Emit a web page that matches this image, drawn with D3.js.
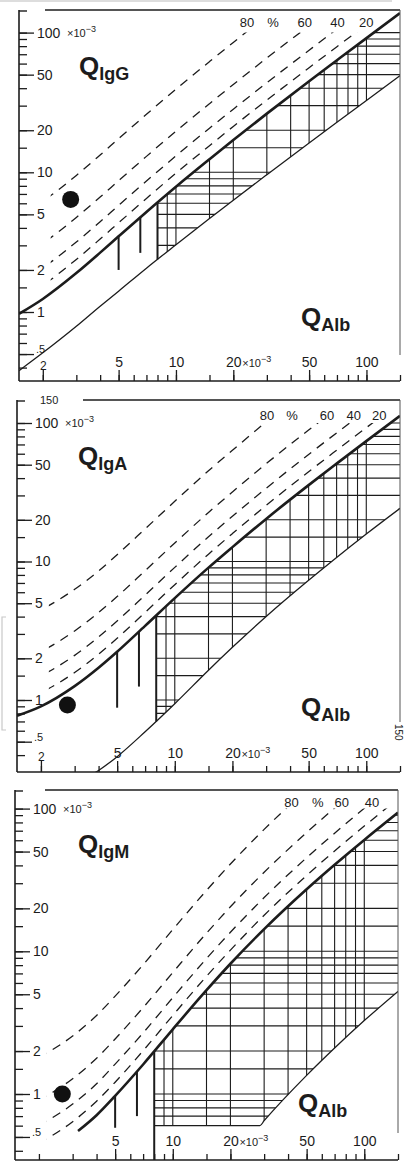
<!DOCTYPE html>
<html><head><meta charset="utf-8">
<script src="https://cdn.jsdelivr.net/npm/d3@7"></script>
<style>
html,body{margin:0;padding:0;background:#fff;}
svg{display:block;}
text{font-family:"Liberation Sans",Arial,Helvetica,sans-serif;fill:#1c1c1c;}
</style>
</head><body>
<svg id="c" width="410" height="1168"></svg>
<script>
// ---------------- DATA (values ×10^-3) ----------------
const xTicks = [2,3,4,5,6,7,8,9,10,15,20,30,40,50,60,70,80,90,100,150];
const xTickLabels = [2,5,10,20,50,100];
const xTickLabelsIgM = [5,10,20,50,100];
const yTicks = [0.4,0.5,0.6,0.7,0.8,0.9,1,1.5,2,3,4,5,6,7,8,9,10,15,20,30,40,50,60,70,80,90,100];
const yTickLabels = [100,50,20,10,5,2,1];
const yTickLabelSmall = [0.5];
const hatchX = [8,9,10,15,20,30,40,50,60,70,80,90,100];
const hatchY = [0.6,0.7,0.8,0.9,1,1.5,2,3,4,5,6,7,8,9,10,15,20,30,40,50,60,70,80,90,100];
const pctLabels = ["80","%","60","40","20"];
const pctLabelsIgM = ["80","%","60","40"];

// IgG
const igG_upper = [[1.5,0.97],[2,1.24],[3,1.90],[4,2.66],[5,3.48],[7,5.2],[10,7.88],[15,12.4],[20,17.0],[30,26.3],[50,44.9],[70,63.4],[100,91.3],[150,137.8]];
const igG_lower = [[1.5,0.38],[2,0.51],[3,0.79],[4,1.10],[5,1.41],[7,2.06],[10,3.03],[15,4.67],[20,6.32],[30,9.61],[50,16.2],[70,22.8],[100,32.7],[150,49.2]];
const igG_if20 = [[1.5,1.21],[2,1.55],[3,2.38],[4,3.33],[5,4.35],[7,6.5],[10,9.85],[15,15.5],[20,21.3],[30,32.9],[50,56.1],[70,79.3],[100,114]];
const igG_if40 = [[1.5,1.62],[2,2.07],[3,3.17],[4,4.43],[5,5.8],[7,8.67],[10,13.1],[15,20.7],[20,28.3],[30,43.8],[50,74.8],[70,106],[100,152]];
const igG_if60 = [[1.5,2.43],[2,3.1],[3,4.75],[4,6.65],[5,8.7],[7,13],[10,19.7],[15,31],[20,42.5],[30,65.8],[50,112],[70,159]];
const igG_if80 = [[1.5,4.85],[2,6.2],[3,9.5],[4,13.3],[5,17.4],[7,26],[10,39.4],[15,62],[20,85],[30,132],[50,225]];
const igG_age = [[5,3.48,2.0],[6.5,4.76,2.65],[8,6.08,2.38]];
const igG_dot = [2.8,6.4];

// IgA
const igA_upper = [[1.5,0.77],[2,0.9],[3,1.26],[4,1.71],[5,2.23],[7,3.43],[10,5.44],[15,9.03],[20,12.7],[30,20.3],[50,35.6],[70,50.9],[100,74],[150,112.5]];
const igA_lower = [[1.5,0.18],[2,0.2],[3,0.25],[4,0.31],[5,0.39],[7,0.59],[10,0.94],[15,1.64],[20,2.4],[30,4.01],[50,7.32],[70,10.7],[100,15.8],[150,24.2]];
const igA_if20 = [[1.5,0.96],[2,1.13],[3,1.58],[4,2.14],[5,2.79],[7,4.29],[10,6.8],[15,11.3],[20,15.9],[30,25.4],[50,44.5],[70,63.6],[100,92.5],[150,141]];
const igA_if40 = [[1.5,1.28],[2,1.5],[3,2.1],[4,2.85],[5,3.72],[7,5.72],[10,9.07],[15,15.1],[20,21.2],[30,33.8],[50,59.3],[70,84.8],[100,123]];
const igA_if60 = [[1.5,1.93],[2,2.25],[3,3.15],[4,4.28],[5,5.58],[7,8.58],[10,13.6],[15,22.6],[20,31.8],[30,50.8],[50,89],[70,127]];
const igA_if80 = [[1.5,3.85],[2,4.5],[3,6.3],[4,8.55],[5,11.2],[7,17.2],[10,27.2],[15,45.2],[20,63.5],[30,102]];
const igA_age = [[5,2.23,0.88],[6.5,3.12,1.25],[8,4.08,0.70]];
const igA_dot = [2.75,0.92];

// IgM
const igM_upper = [[3.2,0.55],[4,0.71],[5,0.97],[7,1.61],[10,2.84],[15,5.34],[20,8.18],[30,14.3],[50,27.2],[70,40.4],[100,60.3],[150,93.7]];
const igM_lower = [[28.5,0.6],[30,0.65],[50,1.35],[70,2.1],[100,3.27],[150,5.24]];
const igM_floor = [[8,0.6],[28.5,0.6]];
const igM_if20 = [[2,0.45],[3,0.64],[4,0.89],[5,1.21],[7,2.01],[10,3.55],[15,6.68],[20,10.2],[30,17.9],[50,34],[70,50.5],[100,75.4],[150,117]];
const igM_if40 = [[2,0.6],[3,0.85],[4,1.18],[5,1.62],[7,2.68],[10,4.73],[15,8.9],[20,13.6],[30,23.8],[50,45.3],[70,67.3],[100,100.5],[150,156]];
const igM_if60 = [[2,0.9],[3,1.28],[4,1.78],[5,2.43],[7,4.03],[10,7.1],[15,13.4],[20,20.5],[30,35.8],[50,68],[70,101],[100,151]];
const igM_if80 = [[2,1.8],[3,2.55],[4,3.55],[5,4.85],[7,8.05],[10,14.2],[15,26.7],[20,40.9],[30,71.5],[50,136]];
const igM_age = [[5,0.97,0.58],[6.5,1.43,0.70],[8,1.99,0.3]];
const igM_dot = [2.65,1.0];

// ---------------- LAYOUT ----------------
const C = "#1c1c1c";
const panels = [
  {id:"G", sub:"IgG", upper:igG_upper, lower:igG_lower, floor:null, dashed:[igG_if20,igG_if40,igG_if60,igG_if80],
   age:igG_age, dot:igG_dot, xLabels:xTickLabels, pct:pctLabels, pctQ:[23.6,32.3,47.4,70.5,99.8], pctY:27,
   f:{top:10,bottom:381,left:19,right:400}, y1:312, dec:139.7, q:[79,75], alb:[301,326], topStart:45, rightEnd:355, l150:false},
  {id:"A", sub:"IgA", upper:igA_upper, lower:igA_lower, floor:null, dashed:[igA_if20,igA_if40,igA_if60,igA_if80],
   age:igA_age, dot:igA_dot, xLabels:xTickLabels, pct:pctLabels, pctQ:[30.3,40.9,62.3,86.1,117], pctY:420,
   f:{top:400,bottom:772,left:17,right:400}, y1:700, dec:138.5, q:[78,465], alb:[301,716], topStart:83, rightEnd:722, l150:true},
  {id:"M", sub:"IgM", upper:igM_upper, lower:igM_lower, floor:igM_floor, dashed:[igM_if20,igM_if40,igM_if60,igM_if80],
   age:igM_age, dot:igM_dot, xLabels:xTickLabelsIgM, pct:pctLabelsIgM, pctQ:[41.7,57.2,76.3,109.6], pctY:807,
   f:{top:790,bottom:1160,left:15,right:398}, y1:1094, dec:142.7, q:[78,853], alb:[298,1112], topStart:45, rightEnd:1133, l150:false}
];

const svg = d3.select("#c");
const defs = svg.append("defs");

// faint scan artefacts at the page edge
svg.append("line").attr("x1",0).attr("x2",392).attr("y1",1).attr("y2",1).attr("stroke","#bbb").attr("stroke-width",1.2);
svg.append("path").attr("d","M6,617 L2,617 L2,730 L6,730").attr("fill","none").attr("stroke","#c8c8c8").attr("stroke-width",1.2);

function drawPanel(p){
  const f = p.f;
  const x = d3.scaleLog().domain([1.5,150]).range([f.left,f.right]);
  const y = d3.scaleLog().domain([1,100]).range([p.y1, p.y1-2*p.dec]);
  const line = d3.line().x(d=>x(d[0])).y(d=>y(d[1])).curve(d3.curveMonotoneX);
  const id = p.id;

  defs.append("clipPath").attr("id","fr"+id).append("rect")
    .attr("x",f.left).attr("y",f.top).attr("width",f.right-f.left).attr("height",f.bottom-f.top);
  defs.append("clipPath").attr("id","bu"+id).append("path")
    .attr("d", line(p.upper)+`L${f.right+5},${f.bottom+5}L${f.left-5},${f.bottom+5}Z`);
  const l0 = p.lower[0];
  const lowerBoundary = p.floor ? p.floor.concat(p.lower.slice(1)) : p.lower;
  defs.append("clipPath").attr("id","al"+id).append("path")
    .attr("d", d3.line().x(d=>x(d[0])).y(d=>y(d[1]))(p.floor||[[1.5,l0[1]],l0]) + line(p.lower).replace(/^M/,"L")
      +`L${f.right+5},${f.top-5}L${f.left-5},${f.top-5}L${f.left-5},${y((p.floor||p.lower)[0][1])}Z`);
  defs.append("clipPath").attr("id","hx"+id).append("rect")
    .attr("x",x(8)).attr("y",f.top).attr("width",f.right-x(8)).attr("height",(p.floor?y(p.floor[0][1])+0.8:f.bottom)-f.top);
  defs.append("clipPath").attr("id","da"+id).append("rect")
    .attr("x",x(2.2)).attr("y",y(100)).attr("width",f.right-x(2.2)).attr("height",f.bottom-y(100));

  const g = svg.append("g");
  const gf = g.append("g").attr("clip-path",`url(#fr${id})`);

  // hatch grid
  const h = gf.append("g").attr("clip-path",`url(#bu${id})`)
    .append("g").attr("clip-path",`url(#al${id})`)
    .append("g").attr("clip-path",`url(#hx${id})`);
  h.selectAll("line.hv").data(hatchX).join("line").attr("class","hv")
    .attr("x1",d=>x(d)).attr("x2",d=>x(d)).attr("y1",f.top).attr("y2",f.bottom)
    .attr("stroke",C).attr("stroke-width",1.1);
  h.selectAll("line.hh").data(hatchY).join("line").attr("class","hh")
    .attr("x1",x(8)).attr("x2",f.right).attr("y1",d=>y(d)).attr("y2",d=>y(d))
    .attr("stroke",C).attr("stroke-width",1.1);

  // age reference lines
  gf.selectAll("line.age").data(p.age).join("line").attr("class","age")
    .attr("x1",d=>x(d[0])).attr("x2",d=>x(d[0])).attr("y1",d=>y(d[1])).attr("y2",d=>y(d[2]))
    .attr("stroke",C).attr("stroke-width",2);

  // intrathecal fraction lines
  gf.append("g").attr("clip-path",`url(#da${id})`).selectAll("path").data(p.dashed).join("path")
    .attr("d",line).attr("fill","none").attr("stroke",C).attr("stroke-width",1.3)
    .attr("stroke-dasharray","9,7");

  // lower bound
  gf.append("path").attr("d",line(lowerBoundary)).attr("fill","none").attr("stroke",C).attr("stroke-width",1.3);
  // upper bound
  gf.append("path").attr("d",line(p.upper)).attr("fill","none").attr("stroke",C).attr("stroke-width",2.6);

  // frame
  const fr = g.append("g").attr("stroke",C).attr("fill","none");
  fr.append("line").attr("x1",f.left).attr("x2",f.left).attr("y1",f.top).attr("y2",f.bottom).attr("stroke-width",1.6);
  fr.append("line").attr("x1",f.left).attr("x2",f.right).attr("y1",f.bottom).attr("y2",f.bottom).attr("stroke-width",1.6);
  fr.append("line").attr("x1",p.topStart).attr("x2",f.right).attr("y1",f.top).attr("y2",f.top).attr("stroke-width",1.5);
  fr.append("line").attr("x1",f.right).attr("x2",f.right).attr("y1",f.top).attr("y2",p.rightEnd).attr("stroke-width",1).attr("stroke","#555");
  fr.append("line").attr("x1",f.left).attr("x2",f.left+8).attr("y1",f.top+1).attr("y2",f.top+1).attr("stroke-width",1.4);

  // axes
  const styleAxis = (sel, fs) => {
    sel.select(".domain").remove();
    sel.selectAll("line").attr("stroke",C).attr("stroke-width",1.3);
    sel.attr("font-size",fs||14).attr("font-family","'Liberation Sans',Arial,sans-serif");
    sel.selectAll("text").attr("fill",C);
  };
  g.append("g").attr("transform",`translate(${f.left},0)`)
    .call(d3.axisRight(y).tickValues(yTicks).tickSize(8).tickFormat("")).call(styleAxis);
  g.append("g").attr("transform",`translate(${f.left},0)`)
    .call(d3.axisRight(y).tickValues(yTickLabels).tickSize(15).tickPadding(3).tickFormat(d=>String(d)))
    .call(styleAxis);
  const small = g.append("g").attr("transform",`translate(${f.left},0)`)
    .call(d3.axisRight(y).tickValues(yTickLabelSmall).tickSize(15).tickPadding(2).tickFormat(()=>".5"))
    .call(styleAxis, 11);
  small.selectAll("text").attr("dy","-0.15em");
  g.append("g").attr("transform",`translate(0,${f.bottom})`)
    .call(d3.axisTop(x).tickValues(xTicks).tickSize(6).tickFormat("")).call(styleAxis);
  const xa = g.append("g").attr("transform",`translate(0,${f.bottom})`)
    .call(d3.axisTop(x).tickValues(p.xLabels).tickSize(11).tickPadding(3).tickFormat(d=>String(d)))
    .call(styleAxis);
  xa.selectAll("text").filter(d=>d===2).attr("font-size",12).attr("dy","0.25em");

  // ×10^-3 units
  const unit = (tx,ty)=>{
    const t = g.append("text").attr("x",tx).attr("y",ty).attr("font-size",11);
    t.append("tspan").text("×10");
    t.append("tspan").attr("font-size",9).attr("dy",-5).text("−3");
  };
  unit(f.left+48, y(100)+4);
  unit(x(20)+9, f.bottom-14);

  if(p.l150){
    g.append("text").attr("x",f.left+23).attr("y",f.top+4).attr("font-size",11).text("150");
    g.append("text").attr("transform",`translate(${f.right-5},${f.bottom-48}) rotate(90)`).attr("font-size",10).text("150");
  }

  // percent labels
  g.selectAll("text.pct").data(p.pct).join("text").attr("class","pct")
    .attr("x",(d,i)=>x(p.pctQ[i])).attr("y",p.pctY).attr("text-anchor","middle").attr("font-size",13).text(d=>d);

  // titles
  const t1 = g.append("text").attr("x",p.q[0]).attr("y",p.q[1]).attr("font-size",26).attr("font-weight","bold");
  t1.append("tspan").text("Q");
  t1.append("tspan").attr("font-size",18).attr("dy",5).text(p.sub);
  const t2 = g.append("text").attr("x",p.alb[0]).attr("y",p.alb[1]).attr("font-size",26).attr("font-weight","bold");
  t2.append("tspan").text("Q");
  t2.append("tspan").attr("font-size",18).attr("dy",5).text("Alb");

  // patient point
  g.append("circle").attr("cx",x(p.dot[0])).attr("cy",y(p.dot[1])).attr("r",8.5).attr("fill","#111");
}
panels.forEach(drawPanel);
</script>
</body></html>
